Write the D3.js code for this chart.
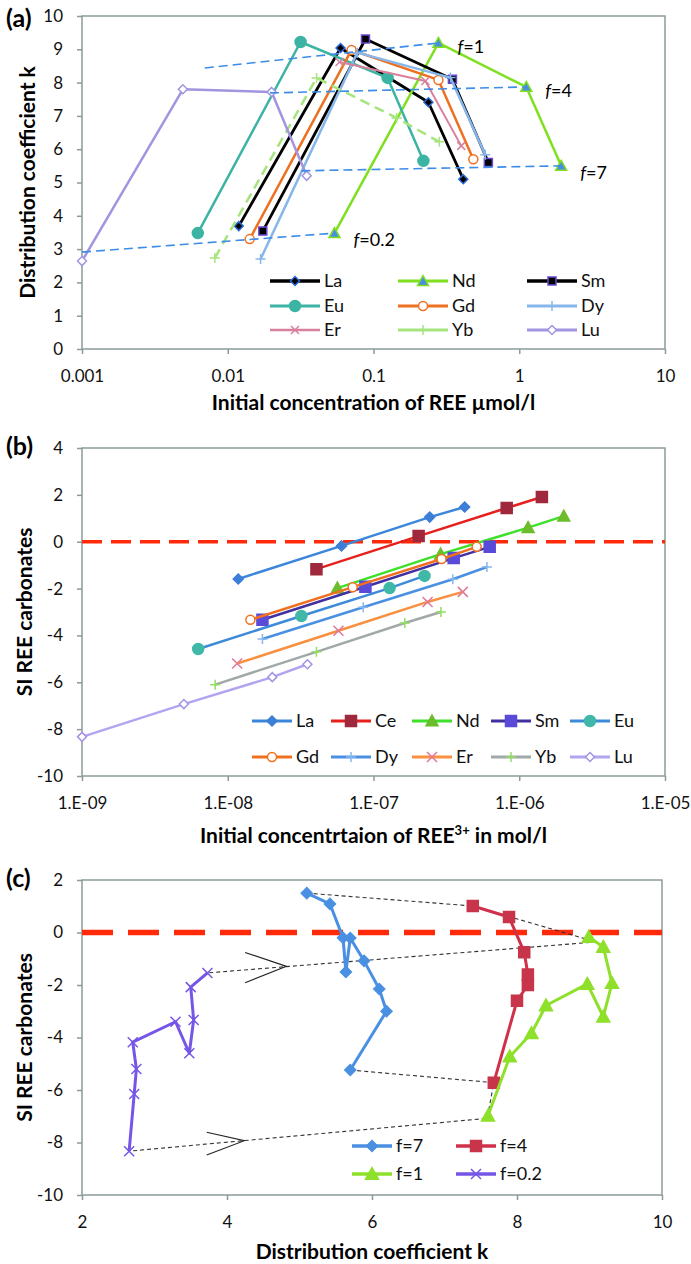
<!DOCTYPE html>
<html>
<head>
<meta charset="utf-8">
<script src="https://cdn.jsdelivr.net/npm/d3@7"></script>
<style>
  body { margin: 0; background: #fff; }
  text { font-family: Lato, "Open Sans", sans-serif; }
</style>
</head>
<body>
<div id="chart"></div>
<script>
// ---- panel (a): initial concentration (umol/l) vs distribution coefficient k
const elementsA = ["La", "Nd", "Sm", "Eu", "Gd", "Dy", "Er", "Yb", "Lu"];
const kLa = [[0.0119, 3.69], [0.0594, 9.04], [0.238, 7.41], [0.413, 5.10]];
const kNd = [[0.054, 3.48], [0.279, 9.19], [1.117, 7.87], [1.94, 5.50]];
const kSm = [[0.0174, 3.54], [0.0881, 9.31], [0.348, 8.10], [0.614, 5.60]];
const kEu = [[0.00623, 3.48], [0.0316, 9.22], [0.125, 8.14], [0.22, 5.65]];
const kGd = [[0.01415, 3.30], [0.0707, 8.98], [0.279, 8.08], [0.484, 5.70]];
const kDy = [[0.0168, 2.70], [0.0775, 8.90], [0.337, 8.15], [0.585, 5.83]];
const kEr = [[0.0585, 8.62], [0.227, 8.05], [0.40, 6.10]];
const kYb = [[0.00815, 2.73], [0.0407, 8.14], [0.144, 6.94], [0.283, 6.22]];
const kLu = [[0.001, 2.64], [0.00492, 7.80], [0.020, 7.72], [0.0348, 5.20]];
// dashed f lines in (a)
const fLabelsA = ["f=1", "f=4", "f=7", "f=0.2"];
const fLine1 = [[0.00696, 8.44], [0.279, 9.19]];
const fLine4 = [[0.0195, 7.69], [1.117, 7.87]];
const fLine7 = [[0.032, 5.35], [1.94, 5.50]];
const fLine02 = [[0.001, 2.91], [0.054, 3.48]];
const xTicksA = [0.001, 0.01, 0.1, 1, 10];
const yTicksA = [0, 1, 2, 3, 4, 5, 6, 7, 8, 9, 10];

// ---- panel (b): initial concentration of REE3+ (mol/l) vs SI
const elementsB = ["La", "Ce", "Nd", "Sm", "Eu", "Gd", "Dy", "Er", "Yb", "Lu"];
const siLa = [[1.18e-8, -1.59], [6.03e-8, -0.18], [2.43e-7, 1.05], [4.22e-7, 1.48]];
const siCe = [[4.06e-8, -1.17], [2.04e-7, 0.24], [8.2e-7, 1.44], [1.43e-6, 1.91]];
const siNd = [[5.65e-8, -1.98], [2.89e-7, -0.53], [1.15e-6, 0.60], [2.02e-6, 1.09]];
const siSm = [[1.73e-8, -3.33], [8.8e-8, -1.92], [3.55e-7, -0.70], [6.27e-7, -0.22]];
const siEu = [[6.27e-9, -4.58], [3.2e-8, -3.17], [1.29e-7, -1.98], [2.24e-7, -1.46]];
const siGd = [[1.43e-8, -3.33], [7.2e-8, -1.94], [2.93e-7, -0.74], [5.1e-7, -0.22]];
const siDy = [[1.73e-8, -4.15], [8.5e-8, -2.80], [3.5e-7, -1.60], [6.0e-7, -1.08]];
const siEr = [[1.16e-8, -5.20], [5.75e-8, -3.80], [2.35e-7, -2.57], [4.1e-7, -2.14]];
const siYb = [[8.2e-9, -6.10], [4.06e-8, -4.70], [1.64e-7, -3.47], [2.9e-7, -3.00]];
const siLu = [[1.0e-9, -8.33], [5.0e-9, -6.93], [2.02e-8, -5.78], [3.52e-8, -5.23]];
const xTicksB = [1e-9, 1e-8, 1e-7, 1e-6, 1e-5];
const yTicksB = [4, 2, 0, -2, -4, -6, -8, -10];

// ---- panel (c): distribution coefficient k vs SI
const fractions = ["f=7", "f=4", "f=1", "f=0.2"];
const cF7 = [[5.10, 1.50], [5.42, 1.09], [5.60, -0.20], [5.64, -1.50], [5.70, -0.21], [5.89, -1.08], [6.10, -2.15], [6.20, -3.00], [5.70, -5.24]];
const cF4 = [[7.39, 1.01], [7.89, 0.59], [8.10, -0.75], [8.15, -1.60], [8.15, -2.00], [8.00, -2.60], [7.68, -5.72]];
const cF1 = [[8.99, -0.17], [9.19, -0.55], [9.31, -1.93], [9.19, -3.21], [8.97, -1.96], [8.40, -2.78], [8.20, -3.84], [7.90, -4.73], [7.60, -6.98]];
const cF02 = [[3.73, -1.54], [3.50, -2.08], [3.54, -3.33], [3.48, -4.60], [3.29, -3.40], [2.70, -4.18], [2.75, -5.20], [2.72, -6.15], [2.65, -8.33]];
const guideTop = [[5.10, 1.50], [7.39, 1.01], [9.09, -0.36], [3.73, -1.54]];
const guideBottom = [[5.70, -5.24], [7.68, -5.72], [7.59, -7.08], [2.65, -8.33]];
const arrowTop = [[4.25, -0.76], [4.82, -1.29], [4.25, -1.91]];
const arrowBottom = [[3.72, -7.61], [4.24, -7.93], [3.72, -8.48]];
const xTicksC = [2, 4, 6, 8, 10];
const yTicksC = [2, 0, -2, -4, -6, -8, -10];

const axisCol = "#8c9a9a";
const svg = d3.select("#chart").append("svg")
    .attr("width", 691)
    .attr("height", 1264);

const markerPath = {
    diamond: s => `M0,${-s}L${s},0L0,${s}L${-s},0Z`,
    square: s => `M${-s},${-s}H${s}V${s}H${-s}Z`,
    triangle: s => `M0,${-s}L${s},${s * 0.8}L${-s},${s * 0.8}Z`,
    circle: s => `M${s},0A${s},${s} 0 1,1 ${-s},0A${s},${s} 0 1,1 ${s},0Z`,
    plus: s => `M${-s},0H${s}M0,${-s}V${s}`,
    cross: s => `M${-s},${-s}L${s},${s}M${-s},${s}L${s},${-s}`
};

function axes(g, x, y, box, xTicks, yTicks, xFmt) {
    g.append("rect")
        .attr("x", box.left).attr("y", box.top)
        .attr("width", box.right - box.left).attr("height", box.bottom - box.top)
        .attr("fill", "none").attr("stroke", axisCol).attr("stroke-width", 1.5);
    const ya = g.append("g")
        .attr("transform", `translate(${box.left},0)`)
        .call(d3.axisLeft(y).tickValues(yTicks).tickFormat(d => String(d))
            .tickSize(5).tickSizeOuter(0).tickPadding(14));
    const xa = g.append("g")
        .attr("transform", `translate(0,${box.bottom})`)
        .call(d3.axisBottom(x).tickValues(xTicks).tickFormat(xFmt)
            .tickSize(5).tickSizeOuter(0).tickPadding(16));
    [ya, xa].forEach(a => {
        a.attr("font-family", null).attr("font-size", null);
        a.select(".domain").remove();
        a.selectAll(".tick line").attr("stroke", axisCol).attr("stroke-width", 1.5);
        a.selectAll(".tick text").style("font-size", "17px").attr("fill", "#111");
    });
}

function series(g, pts, x, y, st) {
    const line = d3.line().x(d => x(d[0])).y(d => y(d[1]));
    g.append("path")
        .datum(pts)
        .attr("d", line)
        .attr("fill", "none")
        .attr("stroke", st.line)
        .attr("stroke-width", st.w)
        .attr("stroke-linejoin", "round")
        .attr("stroke-dasharray", st.dash || null);
    g.selectAll(null)
        .data(pts)
        .join("path")
        .attr("transform", d => `translate(${x(d[0])},${y(d[1])})`)
        .attr("d", markerPath[st.m](st.s))
        .attr("fill", st.fill)
        .attr("stroke", st.stroke)
        .attr("stroke-width", st.mw || 1.5);
}

function legendItem(g, x0, y, len, name, st) {
    g.append("line")
        .attr("x1", x0).attr("x2", x0 + len).attr("y1", y).attr("y2", y)
        .attr("stroke", st.line).attr("stroke-width", st.w + 0.5);
    g.append("path")
        .attr("transform", `translate(${x0 + len / 2},${y})`)
        .attr("d", markerPath[st.m](st.s))
        .attr("fill", st.fill).attr("stroke", st.stroke).attr("stroke-width", st.mw || 1.5);
    g.append("text")
        .attr("x", x0 + len + 4).attr("y", y).attr("dy", "0.36em")
        .style("font-size", "18px").attr("fill", "#111")
        .text(name);
}

function titles(g, box, label, labelY, yTitle, yTitleX, xTitleY, xTitle) {
    g.append("text")
        .attr("x", 6).attr("y", labelY)
        .style("font-size", "25px").style("font-weight", "bold")
        .text(label);
    g.append("text")
        .attr("transform", `translate(${yTitleX},${(box.top + box.bottom) / 2}) rotate(-90)`)
        .attr("text-anchor", "middle")
        .style("font-size", "21px").style("font-weight", "bold")
        .text(yTitle);
    const t = g.append("text")
        .attr("x", (box.left + box.right) / 2).attr("y", xTitleY)
        .attr("text-anchor", "middle")
        .style("font-size", "21px").style("font-weight", "bold");
    xTitle(t);
}

// ================= panel (a)
const boxA = { left: 82, right: 665, top: 16, bottom: 349 };
const xA = d3.scaleLog().domain([0.001, 10]).range([boxA.left, boxA.right]);
const yA = d3.scaleLinear().domain([0, 10]).range([boxA.bottom, boxA.top]);
const gA = svg.append("g");
axes(gA, xA, yA, boxA, xTicksA, yTicksA, d => String(d));

const styleA = {
    La: { line: "#000", w: 2.8, m: "diamond", s: 4.5, fill: "#000", stroke: "#2a6ad8" },
    Nd: { line: "#7ee01e", w: 2.5, m: "triangle", s: 5.5, fill: "#4a8ee0", stroke: "#7ee01e" },
    Sm: { line: "#000", w: 2.8, m: "square", s: 4, fill: "#000", stroke: "#6a48d0" },
    Eu: { line: "#3cb4a4", w: 2.5, m: "circle", s: 5.5, fill: "#3cb4a4", stroke: "#3cb4a4" },
    Gd: { line: "#ee7020", w: 2.5, m: "circle", s: 4.5, fill: "#fff", stroke: "#ee7020" },
    Dy: { line: "#86b6ea", w: 2.5, m: "plus", s: 5, fill: "none", stroke: "#86b6ea" },
    Er: { line: "#d8809c", w: 2, m: "cross", s: 4, fill: "none", stroke: "#d8809c" },
    Yb: { line: "#a6e47e", w: 2.5, m: "plus", s: 5, fill: "none", stroke: "#a6e47e", dash: "10,6" },
    Lu: { line: "#a294e0", w: 2.5, m: "diamond", s: 4.5, fill: "#fff", stroke: "#a294e0" }
};
const dataA = { La: kLa, Nd: kNd, Sm: kSm, Eu: kEu, Gd: kGd, Dy: kDy, Er: kEr, Yb: kYb, Lu: kLu };
elementsA.forEach(el => series(gA, dataA[el], xA, yA, styleA[el]));

// f dashed lines
const fLinesA = [fLine1, fLine4, fLine7, fLine02];
fLinesA.forEach((pts, i) => {
    gA.append("path")
        .datum(pts)
        .attr("d", d3.line().x(d => xA(d[0])).y(d => yA(d[1])))
        .attr("fill", "none")
        .attr("stroke", "#3c8ce8")
        .attr("stroke-width", 1.6)
        .attr("stroke-dasharray", "9,5");
    const end = pts[pts.length - 1];
    const lab = gA.append("text")
        .attr("x", xA(end[0]) + 19)
        .attr("y", yA(end[1]) + (i < 2 ? 10 : 13))
        .style("font-size", "18px");
    lab.append("tspan").style("font-style", "italic").text("f");
    lab.append("tspan").text(fLabelsA[i].slice(1));
});

// legend (a)
const legColsA = [270, 398, 527];
const legRowsA = [281, 306, 330];
elementsA.forEach((el, i) => {
    legendItem(gA, legColsA[i % 3], legRowsA[Math.floor(i / 3)], 50, el, styleA[el]);
});
titles(gA, boxA, "(a)", 27, "Distribution coefficient k", 35, 410,
    t => t.text("Initial concentration of REE µmol/l"));

// ================= panel (b)
const boxB = { left: 82, right: 665, top: 448, bottom: 776 };
const xB = d3.scaleLog().domain([1e-9, 1e-5]).range([boxB.left, boxB.right]);
const yB = d3.scaleLinear().domain([-10, 4]).range([boxB.bottom, boxB.top]);
const gB = svg.append("g");
axes(gB, xB, yB, boxB, xTicksB, yTicksB,
    d => "1.E-" + String(Math.round(-Math.log10(d))).padStart(2, "0"));

gB.append("line")
    .attr("x1", boxB.left).attr("x2", boxB.right)
    .attr("y1", yB(0)).attr("y2", yB(0))
    .attr("stroke", "#ff2a0a").attr("stroke-width", 3.5)
    .attr("stroke-dasharray", "20,9");

const styleB = {
    La: { line: "#3c86dc", w: 2.5, m: "diamond", s: 5, fill: "#3c7ed8", stroke: "#3c7ed8" },
    Ce: { line: "#e6201c", w: 2.5, m: "square", s: 5.5, fill: "#a0283c", stroke: "#a0283c" },
    Nd: { line: "#3ee02a", w: 2.5, m: "triangle", s: 6, fill: "#6cbc2c", stroke: "#6cbc2c" },
    Sm: { line: "#4030a0", w: 2.5, m: "square", s: 5.5, fill: "#5a4ad8", stroke: "#5a4ad8" },
    Eu: { line: "#3c8ad8", w: 2.5, m: "circle", s: 5.5, fill: "#40b8a8", stroke: "#40b8a8" },
    Gd: { line: "#f07020", w: 2.5, m: "circle", s: 4.5, fill: "#fff", stroke: "#f07020" },
    Dy: { line: "#4a90e2", w: 2.5, m: "plus", s: 5, fill: "none", stroke: "#86b6f0" },
    Er: { line: "#f89040", w: 2.5, m: "cross", s: 5, fill: "none", stroke: "#e07898" },
    Yb: { line: "#a0a8a8", w: 2.5, m: "plus", s: 5, fill: "none", stroke: "#90e060" },
    Lu: { line: "#b2a4f0", w: 2.5, m: "diamond", s: 4.5, fill: "#fff", stroke: "#a494e4" }
};
const dataB = { La: siLa, Ce: siCe, Nd: siNd, Sm: siSm, Eu: siEu, Gd: siGd, Dy: siDy, Er: siEr, Yb: siYb, Lu: siLu };
elementsB.forEach(el => series(gB, dataB[el], xB, yB, styleB[el]));

const legColsB = [252, 331, 412, 491, 570];
const legRowsB = [721, 757];
elementsB.forEach((el, i) => {
    legendItem(gB, legColsB[i % 5], legRowsB[Math.floor(i / 5)], 40, el, styleB[el]);
});
titles(gB, boxB, "(b)", 455, "SI REE carbonates", 32, 843, t => {
    t.append("tspan").text("Initial concentrtaion of REE");
    t.append("tspan").attr("baseline-shift", "super").style("font-size", "13px").text("3+");
    t.append("tspan").text(" in mol/l");
});

// ================= panel (c)
const boxC = { left: 82, right: 662, top: 880, bottom: 1195 };
const xC = d3.scaleLinear().domain([2, 10]).range([boxC.left, boxC.right]);
const yC = d3.scaleLinear().domain([-10, 2]).range([boxC.bottom, boxC.top]);
const gC = svg.append("g");
axes(gC, xC, yC, boxC, xTicksC, yTicksC, d => String(d));

gC.append("line")
    .attr("x1", boxC.left).attr("x2", boxC.right)
    .attr("y1", yC(0)).attr("y2", yC(0))
    .attr("stroke", "#ff2a0a").attr("stroke-width", 5.5)
    .attr("stroke-dasharray", "31,15");

const lineC = d3.line().x(d => xC(d[0])).y(d => yC(d[1]));
[guideTop, guideBottom].forEach(pts => {
    gC.append("path").datum(pts).attr("d", lineC)
        .attr("fill", "none").attr("stroke", "#333").attr("stroke-width", 1.1)
        .attr("stroke-dasharray", "4,3");
});
[arrowTop, arrowBottom].forEach(pts => {
    gC.append("path").datum(pts).attr("d", lineC)
        .attr("fill", "none").attr("stroke", "#222").attr("stroke-width", 1.1);
});

const styleC = {
    "f=7": { line: "#4a90e2", w: 3, m: "diamond", s: 5.5, fill: "#4a90e2", stroke: "#4a90e2" },
    "f=4": { line: "#d0304a", w: 3, m: "square", s: 5.5, fill: "#c8354a", stroke: "#c8354a" },
    "f=1": { line: "#8ee02a", w: 3, m: "triangle", s: 6.5, fill: "#8ee02a", stroke: "#8ee02a" },
    "f=0.2": { line: "#7656e6", w: 3, m: "cross", s: 5, fill: "none", stroke: "#7656e6" }
};
const dataC = { "f=7": cF7, "f=4": cF4, "f=1": cF1, "f=0.2": cF02 };
fractions.forEach(f => series(gC, dataC[f], xC, yC, styleC[f]));

const legColsC = [352, 456];
const legRowsC = [1146, 1174];
fractions.forEach((f, i) => {
    legendItem(gC, legColsC[i % 2], legRowsC[Math.floor(i / 2)], 40, f, styleC[f]);
});
titles(gC, boxC, "(c)", 887, "SI REE carbonates", 32, 1259,
    t => t.text("Distribution coefficient k"));
</script>
</body>
</html>
